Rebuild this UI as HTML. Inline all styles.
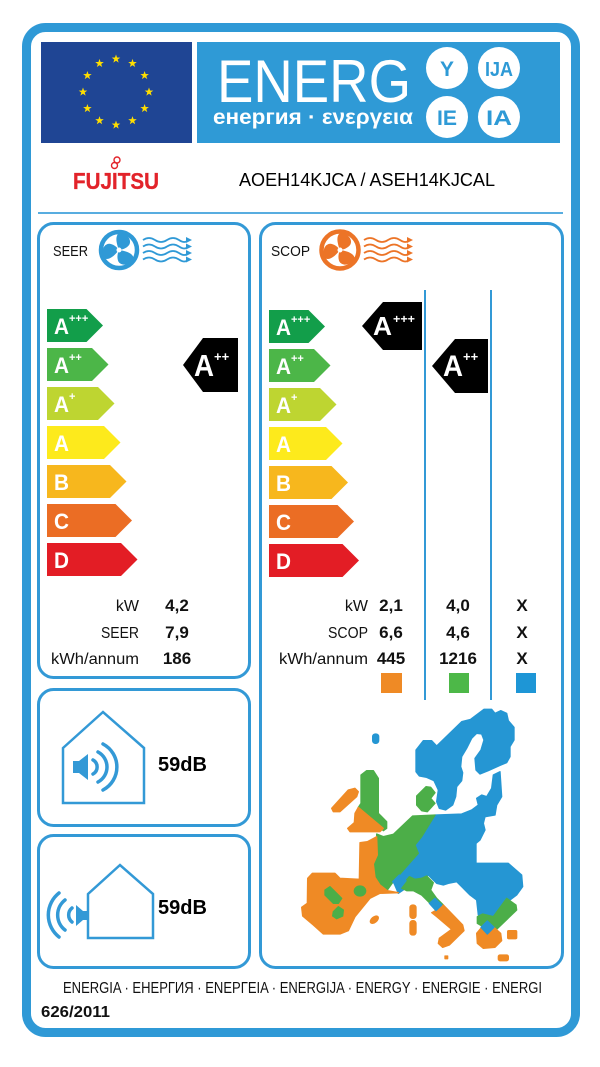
<!DOCTYPE html>
<html><head><meta charset="utf-8"><style>
html,body{margin:0;padding:0;background:#fff;}
svg{display:block;}
text{font-family:"Liberation Sans","DejaVu Sans",sans-serif;}
</style></head><body>
<svg width="600" height="1067" viewBox="0 0 600 1067" xmlns="http://www.w3.org/2000/svg">
<defs>
<path id="star" d="M0,-4.5 L1.06,-1.46 L4.28,-1.39 L1.71,0.56 L2.65,3.64 L0,1.8 L-2.65,3.64 L-1.71,0.56 L-4.28,-1.39 L-1.06,-1.46 Z" fill="#ffde00"/>
<path id="blade" d="M0,0 C-3.5,-5.5 -7,-13.5 -2.5,-17 C4.5,-18 11.5,-12.5 9,-6.5 C7,-3 3.5,-1 0,0 Z"/>
</defs>
<rect x="0" y="0" width="600" height="1067" fill="#fff"/>
<!-- outer frame -->
<rect x="26.5" y="27.5" width="549" height="1005" rx="19" fill="#fff" stroke="#2f99d6" stroke-width="9"/>
<!-- EU flag -->
<rect x="41" y="42" width="151" height="101" fill="#1f4594"/>
<use href="#star" x="116" y="59"/><use href="#star" x="132.5" y="63.4"/><use href="#star" x="144.6" y="75.5"/>
<use href="#star" x="149" y="92"/><use href="#star" x="144.6" y="108.5"/><use href="#star" x="132.5" y="120.6"/>
<use href="#star" x="116" y="125"/><use href="#star" x="99.5" y="120.6"/><use href="#star" x="87.4" y="108.5"/>
<use href="#star" x="83" y="92"/><use href="#star" x="87.4" y="75.5"/><use href="#star" x="99.5" y="63.4"/>
<!-- ENERG box -->
<rect x="197" y="42" width="363" height="101" fill="#2f9ad6"/>
<text x="217" y="102" font-size="60" fill="#fff" textLength="194" lengthAdjust="spacingAndGlyphs">ENERG</text>
<text x="213" y="124" font-size="21" font-weight="bold" fill="#fff" textLength="200" lengthAdjust="spacingAndGlyphs">енергия · ενεργεια</text>
<circle cx="447" cy="68" r="21" fill="#fff"/><circle cx="499" cy="68" r="21" fill="#fff"/>
<circle cx="447" cy="117" r="21" fill="#fff"/><circle cx="499" cy="117" r="21" fill="#fff"/>
<text x="447" y="76" font-size="21" font-weight="bold" fill="#2e9ad6" text-anchor="middle">Y</text>
<text x="499" y="76" font-size="20" font-weight="bold" fill="#2e9ad6" text-anchor="middle" textLength="28" lengthAdjust="spacingAndGlyphs">IJA</text>
<text x="447" y="125" font-size="21" font-weight="bold" fill="#2e9ad6" text-anchor="middle" textLength="20" lengthAdjust="spacingAndGlyphs">IE</text>
<text x="499" y="125" font-size="21" font-weight="bold" fill="#2e9ad6" text-anchor="middle" textLength="26" lengthAdjust="spacingAndGlyphs">IA</text>
<!-- Fujitsu -->
<text x="73" y="189" font-size="23" font-weight="bold" fill="#e2232a" stroke="#e2232a" stroke-width="0.3" textLength="86" lengthAdjust="spacingAndGlyphs">FUJITSU</text>
<circle cx="117" cy="160" r="3" fill="none" stroke="#e2232a" stroke-width="1.4"/>
<circle cx="114.5" cy="165.5" r="3" fill="none" stroke="#e2232a" stroke-width="1.4"/>
<text x="239" y="186" font-size="18" fill="#000" textLength="256" lengthAdjust="spacingAndGlyphs">AOEH14KJCA / ASEH14KJCAL</text>
<line x1="38" y1="213" x2="563" y2="213" stroke="#58ade0" stroke-width="2"/>

<!-- SEER panel -->
<rect x="38.5" y="223.5" width="211" height="454" rx="15" fill="#fff" stroke="#3399d6" stroke-width="3"/>
<text x="53" y="256" font-size="15" fill="#111" textLength="35" lengthAdjust="spacingAndGlyphs">SEER</text>
<g fill="#2f99d6">
<circle cx="119" cy="250" r="18" fill="none" stroke="#2f99d6" stroke-width="4.5"/>
<use href="#blade" transform="translate(119,250) rotate(10)"/><use href="#blade" transform="translate(119,250) rotate(130)"/><use href="#blade" transform="translate(119,250) rotate(250)"/>
<circle cx="119" cy="250" r="2.5" fill="#fff"/>
</g>
<g fill="none" stroke="#2f99d6" stroke-width="1.8">
<path d="M143,240 q6,-4 12,0 t12,0 t12,0 t9,0"/><path d="M143,246.5 q6,-4 12,0 t12,0 t12,0 t9,0"/>
<path d="M143,253 q6,-4 12,0 t12,0 t12,0 t9,0"/><path d="M143,259.5 q6,-4 12,0 t12,0 t12,0 t9,0"/>
</g>
<g fill="#2f99d6"><path d="M186,237 L192,240 L186,243Z"/><path d="M186,243.5 L192,246.5 L186,249.5Z"/><path d="M186,250 L192,253 L186,256Z"/><path d="M186,256.5 L192,259.5 L186,262.5Z"/></g>

<!-- SEER arrows -->
<g font-weight="bold" fill="#fff">
<polygon points="47,309 86.5,309 103,325.5 86.5,342 47,342" fill="#129e4a"/>
<polygon points="47,348 92,348 108.5,364.5 92,381 47,381" fill="#4cb648"/>
<polygon points="47,387 98,387 114.5,403.5 98,420 47,420" fill="#bed531"/>
<polygon points="47,426 104,426 120.5,442.5 104,459 47,459" fill="#fdea1c"/>
<polygon points="47,465 110,465 126.5,481.5 110,498 47,498" fill="#f7b71d"/>
<polygon points="47,504 115.5,504 132,520.5 115.5,537 47,537" fill="#eb6d24"/>
<polygon points="47,543 121,543 137.5,559.5 121,576 47,576" fill="#e31d25"/>
<text x="54" y="334" font-size="22" textLength="15" lengthAdjust="spacingAndGlyphs">A</text><text x="69" y="322" font-size="11">+++</text>
<text x="54" y="373" font-size="22" textLength="15" lengthAdjust="spacingAndGlyphs">A</text><text x="69" y="361" font-size="11">++</text>
<text x="54" y="412" font-size="22" textLength="15" lengthAdjust="spacingAndGlyphs">A</text><text x="69" y="400" font-size="11">+</text>
<text x="54" y="451" font-size="22" textLength="15" lengthAdjust="spacingAndGlyphs">A</text>
<text x="54" y="490" font-size="22" textLength="15" lengthAdjust="spacingAndGlyphs">B</text>
<text x="54" y="529" font-size="22" textLength="15" lengthAdjust="spacingAndGlyphs">C</text>
<text x="54" y="568" font-size="22" textLength="15" lengthAdjust="spacingAndGlyphs">D</text>
</g>
<polygon points="183,365 203,338 238,338 238,392 203,392" fill="#000"/>
<text x="194" y="376" font-size="31" font-weight="bold" fill="#fff" textLength="20" lengthAdjust="spacingAndGlyphs">A</text>
<text x="214" y="361" font-size="13" font-weight="bold" fill="#fff">++</text>

<g font-size="16" fill="#111" text-anchor="end">
<text x="139" y="611">kW</text>
<text x="139" y="638" textLength="38" lengthAdjust="spacingAndGlyphs">SEER</text>
<text x="139" y="664" textLength="88" lengthAdjust="spacingAndGlyphs">kWh/annum</text>
</g>
<g font-size="17" font-weight="bold" fill="#111" text-anchor="middle">
<text x="177" y="611">4,2</text><text x="177" y="638">7,9</text><text x="177" y="664">186</text>
</g>

<!-- SCOP panel -->
<rect x="260.5" y="223.5" width="302" height="744" rx="15" fill="#fff" stroke="#3399d6" stroke-width="3"/>
<text x="271" y="256" font-size="15" fill="#111" textLength="39" lengthAdjust="spacingAndGlyphs">SCOP</text>
<g fill="#ec7427">
<circle cx="340" cy="250" r="18.5" fill="none" stroke="#ec7427" stroke-width="4.5"/>
<use href="#blade" transform="translate(340,250) rotate(10)"/><use href="#blade" transform="translate(340,250) rotate(130)"/><use href="#blade" transform="translate(340,250) rotate(250)"/>
<circle cx="340" cy="250" r="2.5" fill="#fff"/>
</g>
<g fill="none" stroke="#ec7427" stroke-width="1.8">
<path d="M364,240 q6,-4 12,0 t12,0 t12,0 t9,0"/><path d="M364,246.5 q6,-4 12,0 t12,0 t12,0 t9,0"/>
<path d="M364,253 q6,-4 12,0 t12,0 t12,0 t9,0"/><path d="M364,259.5 q6,-4 12,0 t12,0 t12,0 t9,0"/>
</g>
<g fill="#ec7427"><path d="M407,237 L413,240 L407,243Z"/><path d="M407,243.5 L413,246.5 L407,249.5Z"/><path d="M407,250 L413,253 L407,256Z"/><path d="M407,256.5 L413,259.5 L407,262.5Z"/></g>
<line x1="425" y1="290" x2="425" y2="700" stroke="#3399d6" stroke-width="2"/>
<line x1="491" y1="290" x2="491" y2="700" stroke="#3399d6" stroke-width="2"/>

<g font-weight="bold" fill="#fff">
<polygon points="269,310 308.5,310 325,326.5 308.5,343 269,343" fill="#129e4a"/>
<polygon points="269,349 314,349 330.5,365.5 314,382 269,382" fill="#4cb648"/>
<polygon points="269,388 320,388 336.5,404.5 320,421 269,421" fill="#bed531"/>
<polygon points="269,427 326,427 342.5,443.5 326,460 269,460" fill="#fdea1c"/>
<polygon points="269,466 331.5,466 348,482.5 331.5,499 269,499" fill="#f7b71d"/>
<polygon points="269,505 337.5,505 354,521.5 337.5,538 269,538" fill="#eb6d24"/>
<polygon points="269,544 342.5,544 359,560.5 342.5,577 269,577" fill="#e31d25"/>
<text x="276" y="335" font-size="22" textLength="15" lengthAdjust="spacingAndGlyphs">A</text><text x="291" y="323" font-size="11">+++</text>
<text x="276" y="374" font-size="22" textLength="15" lengthAdjust="spacingAndGlyphs">A</text><text x="291" y="362" font-size="11">++</text>
<text x="276" y="413" font-size="22" textLength="15" lengthAdjust="spacingAndGlyphs">A</text><text x="291" y="401" font-size="11">+</text>
<text x="276" y="452" font-size="22" textLength="15" lengthAdjust="spacingAndGlyphs">A</text>
<text x="276" y="491" font-size="22" textLength="15" lengthAdjust="spacingAndGlyphs">B</text>
<text x="276" y="530" font-size="22" textLength="15" lengthAdjust="spacingAndGlyphs">C</text>
<text x="276" y="569" font-size="22" textLength="15" lengthAdjust="spacingAndGlyphs">D</text>
</g>
<polygon points="362,326 383,302 422,302 422,350 383,350" fill="#000"/>
<text x="373" y="335" font-size="26" font-weight="bold" fill="#fff" textLength="19" lengthAdjust="spacingAndGlyphs">A</text>
<text x="393" y="323" font-size="12" font-weight="bold" fill="#fff" textLength="22" lengthAdjust="spacingAndGlyphs">+++</text>
<polygon points="432,366 455,339 488,339 488,393 455,393" fill="#000"/>
<text x="443" y="376" font-size="30" font-weight="bold" fill="#fff" textLength="20" lengthAdjust="spacingAndGlyphs">A</text>
<text x="463" y="361" font-size="13" font-weight="bold" fill="#fff">++</text>

<g font-size="16" fill="#111" text-anchor="end">
<text x="368" y="611">kW</text>
<text x="368" y="638" textLength="40" lengthAdjust="spacingAndGlyphs">SCOP</text>
<text x="368" y="664" textLength="89" lengthAdjust="spacingAndGlyphs">kWh/annum</text>
</g>
<g font-size="17" font-weight="bold" fill="#111" text-anchor="middle">
<text x="391" y="611">2,1</text><text x="391" y="638">6,6</text><text x="391" y="664">445</text>
<text x="458" y="611">4,0</text><text x="458" y="638">4,6</text><text x="458" y="664">1216</text>
<text x="522" y="611">X</text><text x="522" y="638">X</text><text x="522" y="664">X</text>
</g>
<rect x="381" y="673" width="21" height="20" fill="#ef8a25"/>
<rect x="449" y="673" width="20" height="20" fill="#4db848"/>
<rect x="516" y="673" width="20" height="20" fill="#1e96d6"/>

<!-- Map -->
<g transform="translate(280,690) scale(0.33333)" stroke-linejoin="round" stroke-width="4">
<g fill="#2596d3" stroke="#2596d3">
<rect x="278" y="132" width="18" height="28" rx="8"/>
<polygon points="408,180 430,152 455,152 470,168 545,95 572,88 612,58 635,58 645,70 662,62 680,70 685,92 702,112 702,150 690,170 690,200 680,218 660,226 625,242 600,252 588,240 585,205 603,180 612,150 605,132 590,130 575,145 560,175 545,200 542,230 548,248 545,272 530,290 527,320 518,345 497,360 478,355 470,335 475,300 462,272 440,262 418,258 408,245"/>
<polygon points="465,375 545,372 575,360 595,345 590,325 605,315 620,320 635,295 640,255 660,245 665,320 650,345 645,375 615,380 610,400 615,420 600,450 588,460 588,520 685,520 725,555 728,590 710,615 690,630 650,690 620,690 595,675 590,630 570,615 550,595 530,575 505,580 490,585 470,580 460,570 445,555 430,568 405,568 390,560 370,600 355,610 340,575 375,535 415,490 405,465 425,440"/>
</g>
<g fill="#4cae48" stroke="#4cae48">
<polygon points="243,255 260,242 280,242 295,265 295,370 320,395 320,415 310,422 235,352 243,340"/>
<polygon points="410,318 438,290 452,292 465,308 452,325 465,340 442,365 425,362 410,345"/>
<polygon points="290,432 310,440 340,433 398,378 465,375 425,440 405,465 415,490 375,535 340,575 322,600 300,585 285,562 280,522 292,495"/>
<polygon points="360,592 388,560 405,568 425,565 440,558 460,578 452,600 470,625 490,645 470,662 450,640 425,615 400,602 380,602"/>
<polygon points="592,680 608,672 640,680 680,625 708,645 710,660 650,718 630,705 612,712 592,700"/>
</g>
<g fill="#ef8a25" stroke="#ef8a25">
<polygon points="155,355 205,300 225,295 235,305 230,320 180,365 160,365"/>
<polygon points="235,352 310,415 300,425 210,425 203,415 223,398 225,370"/>
<polygon points="240,458 262,455 290,440 292,495 280,522 285,562 300,585 322,602 355,608 300,610 270,625 225,680 205,722 180,732 130,732 100,705 68,678 65,652 82,640 83,565 97,550 165,550 180,565 238,568"/>
<polygon points="470,660 490,645 548,705 552,722 508,765 488,772 475,760 478,745 515,718 470,680 455,668"/>
<rect x="390" y="645" width="18" height="40" rx="8"/>
<rect x="390" y="692" width="18" height="43" rx="8"/>
<ellipse cx="283" cy="689" rx="14" ry="8" transform="rotate(-40 283 689)"/>
<rect x="495" y="798" width="8" height="8"/>
<polygon points="590,730 605,712 622,732 642,712 662,730 665,752 645,772 610,775 592,760"/>
<rect x="683" y="722" width="27" height="24" rx="3"/>
<rect x="655" y="795" width="30" height="17" rx="5"/>
</g>
<g fill="#4cae48" stroke="#4cae48">
<polygon points="135,600 150,590 185,625 175,640 160,640 135,615"/>
<ellipse cx="240" cy="603" rx="17" ry="15"/>
<polygon points="160,665 175,650 190,660 188,678 170,686 158,678"/>
</g>
<g fill="#2596d3" stroke="#2596d3">
<polygon points="338,575 358,555 378,572 358,598"/>
<polygon points="448,640 465,625 485,645 468,662"/>
<polygon points="603,712 622,693 642,712 622,732"/>
</g>
</g>

<!-- Noise box 1 -->
<rect x="38.5" y="689.5" width="211" height="136" rx="15" fill="#fff" stroke="#3399d6" stroke-width="3"/>
<path d="M63,748 L103,712 L144,748 L144,803 L63,803 Z" fill="none" stroke="#3399d6" stroke-width="2.5"/>
<rect x="73" y="761" width="7" height="12" fill="#3399d6"/>
<polygon points="79,761 88,754 88,780 79,773" fill="#3399d6"/>
<g fill="none" stroke="#3399d6" stroke-width="3.5" stroke-linecap="round">
<path d="M93,760 A8,8 0 0 1 93,774"/>
<path d="M98,752 A17,17 0 0 1 98,782"/>
<path d="M103,744 A26,26 0 0 1 103,790"/>
</g>
<text x="158" y="771" font-size="20" font-weight="bold" fill="#000">59dB</text>

<!-- Noise box 2 -->
<rect x="38.5" y="835.5" width="211" height="132" rx="15" fill="#fff" stroke="#3399d6" stroke-width="3"/>
<path d="M88,894 L120,865 L153,894 L153,938 L88,938 Z" fill="none" stroke="#3399d6" stroke-width="2.5"/>
<polygon points="76,905 83,911 88,911 88,920 83,920 76,926" fill="#3399d6"/>
<g fill="none" stroke="#3399d6" stroke-width="3.5" stroke-linecap="round">
<path d="M72,908 A9,9 0 0 0 72,922"/>
<path d="M65,900 A19,19 0 0 0 65,930"/>
<path d="M59,893 A28,28 0 0 0 59,937"/>
</g>
<text x="158" y="914" font-size="20" font-weight="bold" fill="#000">59dB</text>

<!-- Footer -->
<text x="63" y="993" font-size="16" fill="#111" textLength="479" lengthAdjust="spacingAndGlyphs">ENERGIA · ЕНЕРГИЯ · ΕΝΕΡΓΕΙΑ · ENERGIJA · ENERGY · ENERGIE · ENERGI</text>
<text x="41" y="1017" font-size="16" font-weight="bold" fill="#111" textLength="69" lengthAdjust="spacingAndGlyphs">626/2011</text>
</svg>
</body></html>
